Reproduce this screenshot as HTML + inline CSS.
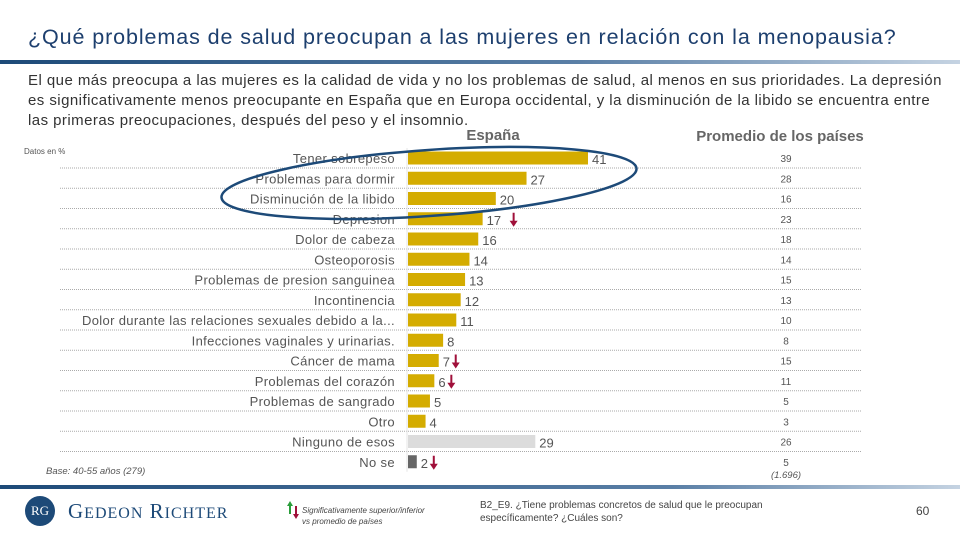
<!DOCTYPE html>
<html><head><meta charset="utf-8"><style>
body{margin:0;width:960px;height:540px;background:#fff;font-family:"Liberation Sans",sans-serif;overflow:hidden;position:relative}
.t{position:absolute;white-space:nowrap}
</style></head><body>
<div class="t" style="left:28px;top:25px;font-size:21.5px;letter-spacing:0.9px;color:#1d3f6e">¿Qué problemas de salud preocupan a las mujeres en relación con la menopausia?</div>
<div style="position:absolute;left:0;top:60px;width:960px;height:4px;background:linear-gradient(90deg,#1d4a78,#5a7fa6 60%,#c5d3e2)"></div>
<div class="t" style="left:28px;top:71px;font-size:15px;letter-spacing:0.45px;line-height:20px;color:#333;white-space:normal;width:925px">El que más preocupa a las mujeres es la calidad de vida y no los problemas de salud, al menos en sus prioridades. La depresión es significativamente menos preocupante en España que en Europa occidental, y la disminución de la libido se encuentra entre las primeras preocupaciones, después del peso y el insomnio.</div>
<svg id="chart" width="960" height="540" style="position:absolute;left:0;top:0">
</svg>
<div style="position:absolute;left:0;top:485px;width:960px;height:4px;background:linear-gradient(90deg,#1d4a78,#5a7fa6 70%,#c5d3e2)"></div>
<div style="position:absolute;left:25px;top:496px;width:30px;height:30px;border-radius:50%;background:#1d4a78;color:#fff;font-family:'Liberation Serif',serif;font-size:13px;text-align:center;line-height:30px">RG</div>
<div class="t" style="left:68px;top:499px;font-family:'Liberation Serif',serif;font-size:21px;color:#1d4a78;letter-spacing:1px">G<span style="font-size:16px">EDEON</span> R<span style="font-size:16px">ICHTER</span></div>
<div class="t" style="left:302px;top:505px;font-size:8px;color:#444;font-style:italic;line-height:11px">Significativamente superior/inferior<br>vs promedio de países</div>
<div class="t" style="left:480px;top:499px;font-size:10px;color:#444;line-height:13px">B2_E9. ¿Tiene problemas concretos de salud que le preocupan<br>específicamente? ¿Cuáles son?</div>
<div class="t" style="left:916px;top:504px;font-size:12px;color:#444">60</div>
<script>
const categories=["Tener sobrepeso","Problemas para dormir","Disminución de la libido","Depresion","Dolor de cabeza","Osteoporosis","Problemas de presion sanguinea","Incontinencia","Dolor durante las relaciones sexuales debido a la...","Infecciones vaginales y urinarias.","Cáncer de mama","Problemas del corazón","Problemas de sangrado","Otro","Ninguno de esos","No se"];
const spainValues=[41,27,20,17,16,14,13,12,11,8,7,6,5,4,29,2];
const avgValues=[39,28,16,23,18,14,15,13,10,8,15,11,5,3,26,5];
const sigDown=[0,0,0,1,0,0,0,0,0,0,1,1,0,0,0,1];
const NS="http://www.w3.org/2000/svg";
const svg=document.getElementById('chart');
const x0=408,k=4.39,y0=158,step=20.25,bh=13;
const xs=v=>x0+v*k, ys=i=>y0+i*step;
function mk(tag,attrs,txt){const e=document.createElementNS(NS,tag);for(const a in attrs)e.setAttribute(a,attrs[a]);if(txt!==undefined)e.textContent=txt;svg.appendChild(e);return e;}
let e;
e=mk('text',{x:493,y:140,'font-size':15,'font-weight':'bold',fill:'#666','text-anchor':'middle'},'España');

e=mk('text',{x:780,y:141,'font-size':15,'font-weight':'bold',fill:'#666','text-anchor':'middle'},'Promedio de los países');

e=mk('text',{x:24,y:154,'font-size':8,fill:'#555'},'Datos en %');

e=mk('text',{x:46,y:474,'font-size':9.5,fill:'#555','font-style':'italic'},'Base: 40-55 años (279)');

e=mk('text',{x:786,y:478,'font-size':9.5,fill:'#555','font-style':'italic','text-anchor':'middle'},'(1.696)');

categories.forEach((c,i)=>{
  const y=ys(i);
  if(i<categories.length-1){
    e=mk('line',{x1:60,x2:862,y1:y+10,y2:y+10,stroke:'#aaa','stroke-width':1,'stroke-dasharray':'1,1'});
    
  }
  e=mk('text',{x:395,y:y+5,'font-size':13,'letter-spacing':0.35,fill:'#555','text-anchor':'end'},c);
  
  const col=i==14?'#dcdcdc':(i==15?'#666':'#d4ac00');
  e=mk('rect',{x:x0,y:y-bh/2,width:spainValues[i]*k,height:bh,fill:col});
  
  e=mk('text',{x:xs(spainValues[i])+4,y:y+6,'font-size':13,fill:'#555'},spainValues[i]);
  
  e=mk('text',{x:786,y:y+4,'font-size':10,fill:'#555','text-anchor':'middle'},avgValues[i]);
  
  if(sigDown[i]){
    const ax=xs(spainValues[i])+(i==3?31:17);
    e=mk('path',{d:`M${ax-1} ${y-6}h2v8h3l-4 6l-4-6h3z`,fill:'#a0103a'});
    
  }
});
e=mk('line',{x1:407,x2:407,y1:y0-10,y2:ys(15)+10,stroke:'#e5e5e5','stroke-width':1});

e=mk('ellipse',{cx:429,cy:183,rx:208,ry:33,fill:'none',stroke:'#1d4a78','stroke-width':2.5,transform:'rotate(-4 429 183)'});

e=mk('path',{d:'M287 506l3-5l3 5h-2v8h-2v-8z',fill:'#2a9d3a'});

e=mk('path',{d:'M295 506h2v8h2l-3 5l-3-5h2z',fill:'#a0103a'});

</script>
</body></html>
